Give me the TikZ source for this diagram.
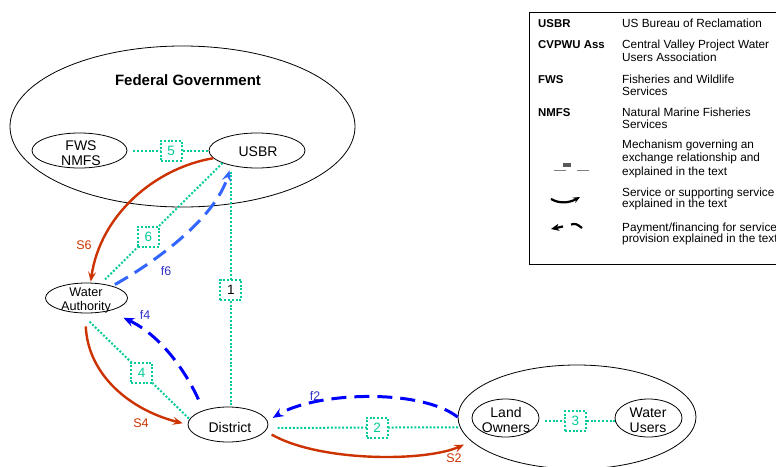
\documentclass[tikz,border=0pt]{standalone}
\usepackage{fontspec}
\setmainfont{Liberation Sans}
\usetikzlibrary{shapes.geometric,arrows.meta}
\definecolor{dgreen}{HTML}{00CC99}
\definecolor{sred}{HTML}{CC3300}
\definecolor{fblue}{HTML}{0000FF}
\definecolor{lblue}{HTML}{3366FF}
\definecolor{flab}{HTML}{3333CC}
\begin{document}
\begin{tikzpicture}[x=1pt,y=-1pt,
  ell/.style={ellipse,draw,line width=0.8pt,inner sep=0pt},
  ntext/.style={align=center,inner sep=0pt,font=\fontsize{14}{14.5}\selectfont},
  numbox/.style={draw=dgreen,line width=2pt,dash pattern=on 2pt off 1.8pt,fill=white,minimum width=21pt,minimum height=20pt,inner sep=0pt,text=dgreen,font=\fontsize{13.5}{13.5}\selectfont},
  dotline/.style={dgreen,line width=2pt,dash pattern=on 2pt off 1.8pt},
  svc/.style={sred,line width=2.4pt,-{Stealth[length=10pt,width=8pt,inset=4pt]}},
  pay/.style={line width=3pt,dash pattern=on 15pt off 8pt,-{Stealth[length=11pt,width=9pt,inset=4pt]}},
  lab/.style={inner sep=0pt,font=\fontsize{12.5}{13}\selectfont},
  legb/.style={anchor=base west,inner sep=0pt,font=\bfseries\fontsize{11.4}{12}\selectfont},
  legt/.style={anchor=base west,inner sep=0pt,font=\fontsize{11.8}{12}\selectfont},
  sym/.style={line width=2.2pt}
]
\clip (0,0) rectangle (776,466);
\fill[white] (0,0) rectangle (776,466);

% ellipses
\node[ell,minimum width=345pt,minimum height=161pt] (fed) at (182.5,126.5) {};
\node[ell,minimum width=95pt,minimum height=35pt] (fws) at (79.5,150.5) {};
\node[ell,minimum width=96pt,minimum height=35pt] (usbr) at (257,150.5) {};
\node[ell,minimum width=82pt,minimum height=30pt] (wa) at (86.5,298) {};
\node[ell,minimum width=80pt,minimum height=35pt] (dist) at (228,424.5) {};
\node[ell,minimum width=238pt,minimum height=104pt] (lobig) at (577,417) {};
\node[ell,minimum width=67pt,minimum height=38pt] (lo) at (505.5,418) {};
\node[ell,minimum width=67pt,minimum height=38pt] (wu) at (648.5,418) {};

% mechanism lines with boxes
\draw[dotline,shorten <=6pt] (fws.east) -- node[numbox,pos=0.54] (b5) {5} (usbr.west);
\draw[dotline,shorten <=6pt] (usbr.210) -- node[numbox,pos=0.515,text=black] (b1) {1} (usbr.210 |- dist.north);
\draw[dotline,shorten >=5pt] (usbr.200) -- node[numbox,pos=0.61] (b6) {6} (wa.45);
\draw[dotline,shorten <=12pt] (wa.250) -- node[numbox,pos=0.56] (b4) {4} (dist.172);
\draw[dotline,shorten <=10pt] (dist.-5) -- node[numbox,pos=0.569] (b2) {2} (lobig.185);
\draw[dotline,shorten <=6pt] (lo.-5) -- node[numbox,pos=0.48] (b3) {3} (wu.185);

% services (red)
\draw[svc,shorten >=1pt] (usbr.190) .. controls (155,168) and (100,215) .. (wa.75);
\draw[svc,shorten <=13pt,shorten >=5pt] (wa.265) .. controls (88,375) and (130,410) .. (dist.west);
\draw[svc,shorten <=7pt,shorten >=8pt] (dist.-10) .. controls (320,462) and (425,462) .. (lobig.193);

% payments (blue dashed)
\draw[pay,lblue,shorten <=3pt,shorten >=5pt] (wa.25) .. controls (150,265) and (215,220) .. (usbr.210);
\draw[pay,fblue,shorten <=12pt,shorten >=16pt] (dist.150) .. controls (185,370) and (160,335) .. (wa.-30);
\draw[pay,fblue,shorten >=6pt] (lobig.west) .. controls (420,388) and (315,392) .. (dist.5);

% texts in ellipses
\node[font=\bfseries\fontsize{15}{16}\selectfont,inner sep=0pt] (fedt) at (188,80) {Federal Government};
\node[ntext] (fwst) at (81,153) {FWS\\NMFS};
\node[ntext] (usbrt) at (258,152) {USBR};
\node[ntext,font=\fontsize{12.6}{14.5}\selectfont] (wat) at (86,300.5) {Water\\Authority};
\node[ntext] (distt) at (230,427) {District};
\node[ntext] (lot) at (506,420) {Land\\Owners};
\node[ntext] (wut) at (648,420) {Water\\Users};

% arrow labels
\node[lab,text=sred] (s6) at (84,245) {S6};
\node[lab,text=flab] (f6) at (166,271) {f6};
\node[lab,text=flab] (f4) at (145,315) {f4};
\node[lab,text=sred] (s4) at (141,423) {S4};
\node[lab,text=flab] (f2) at (315,396) {f2};
\node[lab,text=sred] (s2) at (454,458) {S2};

% legend
\draw[line width=0.8pt] (529,12) rectangle (800,264);
\node[legb] (k1) at (538,27) {USBR};
\node[legt] (v1) at (622,27) {US Bureau of Reclamation};
\node[legb] (k2) at (538,48) {CVPWU Ass};
\node[legt] (v2a) at (622,48) {Central Valley Project Water};
\node[legt] (v2b) at (622,61) {Users Association};
\node[legb] (k3) at (538,83) {FWS};
\node[legt] (v3a) at (622,83) {Fisheries and Wildlife};
\node[legt] (v3b) at (622,95) {Services};
\node[legb] (k4) at (538,116) {NMFS};
\node[legt] (v4a) at (622,116) {Natural Marine Fisheries};
\node[legt] (v4b) at (622,128) {Services};
\node[legt] (v5a) at (622,148) {Mechanism governing an};
\node[legt] (v5b) at (622,161) {exchange relationship and};
\node[legt] (v5c) at (622,175) {explained in the text};
\node[legt] (v6a) at (622,196) {Service or supporting service};
\node[legt] (v6b) at (622,207.5) {explained in the text};
\node[legt] (v7a) at (622,231) {Payment/financing for service};
\node[legt] (v7b) at (622,242.5) {provision explained in the text};

% legend symbols
\draw[gray,line width=1pt] (554,170) -- (566,170);
\fill[gray!70!black] (563,163) rectangle (571,166.5);
\draw[gray,line width=1pt] (577,170) -- (589,170);
\draw[sym,-{Stealth[length=7pt,width=6pt,inset=2.5pt]}] (551,199) .. controls (560,204) and (569,203) .. (580,197);
\draw[sym,{Stealth[length=8pt,width=7pt,inset=2pt]}-] (551,229) -- (563,226.5);
\draw[sym] (571,224.5) .. controls (576,223.5) .. (582,228);
\end{tikzpicture}
\end{document}
